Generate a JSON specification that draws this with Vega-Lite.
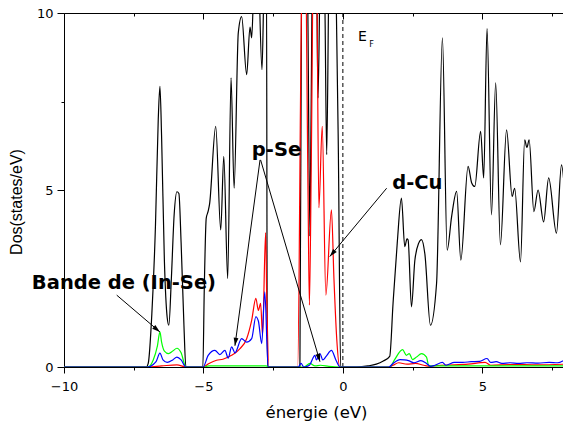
{
  "$schema": "https://vega.github.io/schema/vega-lite/v6.json",
  "width": 500,
  "height": 354,
  "autosize": {"type": "none"},
  "padding": {"left": 64, "top": 13, "right": 0, "bottom": 54},
  "background": "white",
  "config": {
    "view": {"stroke": null},
    "axis": {"labelFont": "DejaVu Sans", "labelFontSize": 13, "labelColor": "black", "domainColor": "black", "tickColor": "black", "grid": false, "titleColor": "black", "labelOverlap": false, "labelFlush": false, "labelBound": false}
  },
  "datasets": {
    "black": [
      {"e":-10,"v":0},{"e":-7.05,"v":0},{"e":-6.98,"v":0.1},{"e":-6.85,"v":1.5},{"e":-6.72,"v":4.0},{"e":-6.62,"v":7.0},{"e":-6.56,"v":7.93},{"e":-6.5,"v":6.5},{"e":-6.4,"v":3.0},{"e":-6.3,"v":1.4},{"e":-6.24,"v":1.18},{"e":-6.15,"v":2.5},{"e":-6.05,"v":4.3},{"e":-5.95,"v":4.95},{"e":-5.88,"v":4.9},{"e":-5.8,"v":3.5},{"e":-5.7,"v":1.2},{"e":-5.63,"v":0},
      {"e":-5.02,"v":0},{"e":-4.97,"v":2.2},{"e":-4.9,"v":4.2},{"e":-4.83,"v":4.4},{"e":-4.78,"v":4.6},{"e":-4.56,"v":6.8},{"e":-4.38,"v":3.87},{"e":-4.27,"v":5.95},{"e":-4.13,"v":2.5},{"e":-4.01,"v":8.17},{"e":-3.9,"v":5.05},{"e":-3.75,"v":9.44},{"e":-3.63,"v":9.9},{"e":-3.45,"v":8.26},{"e":-3.33,"v":9.6},{"e":-3.27,"v":9.3},{"e":-3.19,"v":10.8},{"e":-3.05,"v":11.5},{"e":-2.9,"v":8.4},{"e":-2.82,"v":11},{"e":-2.74,"v":11.5},{"e":-2.71,"v":0},
      {"e":-1.54,"v":0},{"e":-1.48,"v":11},{"e":-1.38,"v":13},{"e":-1.27,"v":11},{"e":-1.18,"v":3.7},{"e":-1.1,"v":11},{"e":-1.0,"v":13},{"e":-0.94,"v":11},{"e":-0.89,"v":7.6},{"e":-0.82,"v":11},{"e":-0.72,"v":13},{"e":-0.64,"v":10},{"e":-0.58,"v":6.0},{"e":-0.5,"v":11},{"e":-0.38,"v":13},{"e":-0.25,"v":11},{"e":-0.16,"v":6},{"e":-0.08,"v":0},
      {"e":0.5,"v":0},{"e":0.9,"v":0.03},{"e":1.2,"v":0.08},{"e":1.45,"v":0.17},{"e":1.68,"v":0.3},{"e":1.8,"v":1.8},{"e":1.95,"v":3.5},{"e":2.1,"v":4.77},{"e":2.22,"v":3.4},{"e":2.3,"v":3.62},{"e":2.34,"v":3.59},{"e":2.46,"v":1.7},{"e":2.58,"v":3.0},{"e":2.72,"v":3.5},{"e":2.82,"v":3.6},{"e":2.94,"v":3.2},{"e":3.14,"v":1.18},{"e":3.36,"v":2.36},{"e":3.57,"v":9.3},{"e":3.74,"v":3.3},{"e":3.9,"v":4.25},{"e":4.08,"v":4.96},{"e":4.23,"v":3.02},{"e":4.49,"v":5.67},{"e":4.62,"v":5.2},{"e":4.73,"v":5.1},{"e":4.94,"v":6.66},{"e":5.05,"v":5.34},{"e":5.17,"v":9.56},{"e":5.33,"v":4.3},{"e":5.48,"v":8.03},{"e":5.65,"v":3.45},{"e":5.87,"v":6.7},{"e":6.07,"v":4.82},{"e":6.16,"v":5.05},{"e":6.37,"v":2.97},{"e":6.52,"v":6.42},{"e":6.6,"v":6.2},{"e":6.68,"v":6.42},{"e":6.85,"v":4.39},{"e":7.0,"v":5.0},{"e":7.2,"v":4.1},{"e":7.38,"v":5.34},{"e":7.66,"v":3.78},{"e":7.84,"v":5.71},{"e":7.95,"v":5.0}
    ],
    "red": [
      {"e":-10,"v":0},{"e":-7.0,"v":0},{"e":-6.5,"v":0.03},{"e":-5.95,"v":0.06},{"e":-5.63,"v":0},{"e":-5.02,"v":0},{"e":-4.8,"v":0.1},{"e":-4.53,"v":0.19},{"e":-4.3,"v":0.22},{"e":-3.99,"v":0.33},{"e":-3.85,"v":0.4},{"e":-3.69,"v":0.52},{"e":-3.45,"v":0.8},{"e":-3.27,"v":1.32},{"e":-3.12,"v":1.94},{"e":-3.03,"v":1.6},{"e":-2.95,"v":1.8},{"e":-2.88,"v":0.9},{"e":-2.77,"v":3.8},{"e":-2.73,"v":2.0},{"e":-2.65,"v":0},
      {"e":-1.62,"v":0},{"e":-1.5,"v":9},{"e":-1.45,"v":12},{"e":-1.35,"v":12},{"e":-1.25,"v":5},{"e":-1.2,"v":1.75},{"e":-1.13,"v":6},{"e":-1.05,"v":12},{"e":-0.95,"v":12},{"e":-0.86,"v":4.5},{"e":-0.74,"v":6.8},{"e":-0.61,"v":2.03},{"e":-0.41,"v":4.44},{"e":-0.32,"v":2.5},{"e":-0.22,"v":0.8},{"e":-0.11,"v":0},
      {"e":1.65,"v":0},{"e":1.8,"v":0.05},{"e":2.0,"v":0.12},{"e":2.3,"v":0.08},{"e":2.6,"v":0.1},{"e":2.9,"v":0.05},{"e":3.1,"v":0.02},{"e":3.5,"v":0.05},{"e":4.0,"v":0.06},{"e":4.5,"v":0.08},{"e":5.1,"v":0.13},{"e":5.3,"v":0.05},{"e":6.0,"v":0.07},{"e":7.0,"v":0.06},{"e":7.95,"v":0.08}
    ],
    "green": [
      {"e":-10,"v":0},{"e":-7.0,"v":0},{"e":-6.8,"v":0.2},{"e":-6.65,"v":0.6},{"e":-6.56,"v":0.99},{"e":-6.5,"v":0.7},{"e":-6.4,"v":0.45},{"e":-6.25,"v":0.38},{"e":-6.1,"v":0.45},{"e":-5.95,"v":0.53},{"e":-5.8,"v":0.4},{"e":-5.63,"v":0},{"e":-5.0,"v":0},{"e":-4.8,"v":0.03},{"e":-2.75,"v":0.03},{"e":-2.66,"v":0},{"e":-1.4,"v":0},{"e":-1.18,"v":0.1},{"e":-1.0,"v":0.03},{"e":-0.8,"v":0.05},{"e":-0.5,"v":0.02},{"e":-0.1,"v":0},
      {"e":1.68,"v":0},{"e":1.85,"v":0.2},{"e":2.14,"v":0.49},{"e":2.28,"v":0.33},{"e":2.38,"v":0.38},{"e":2.5,"v":0.21},{"e":2.64,"v":0.28},{"e":2.82,"v":0.38},{"e":3.0,"v":0.28},{"e":3.08,"v":0.03},{"e":7.95,"v":0.03}
    ],
    "blue": [
      {"e":-10,"v":0},{"e":-7.0,"v":0},{"e":-6.7,"v":0.15},{"e":-6.56,"v":0.39},{"e":-6.45,"v":0.2},{"e":-6.3,"v":0.13},{"e":-6.1,"v":0.2},{"e":-5.95,"v":0.28},{"e":-5.8,"v":0.2},{"e":-5.63,"v":0},{"e":-5.01,"v":0},{"e":-4.83,"v":0.33},{"e":-4.59,"v":0.47},{"e":-4.41,"v":0.35},{"e":-4.23,"v":0.47},{"e":-4.11,"v":0.25},{"e":-3.99,"v":0.57},{"e":-3.87,"v":0.4},{"e":-3.63,"v":0.8},{"e":-3.45,"v":0.7},{"e":-3.27,"v":0.8},{"e":-3.12,"v":1.42},{"e":-3.03,"v":1.3},{"e":-2.91,"v":0.66},{"e":-2.8,"v":2.12},{"e":-2.68,"v":0},
      {"e":-1.6,"v":0},{"e":-1.5,"v":0.1},{"e":-1.4,"v":0},{"e":-1.2,"v":0.05},{"e":-1.0,"v":0.33},{"e":-0.95,"v":0.2},{"e":-0.82,"v":0.38},{"e":-0.72,"v":0.2},{"e":-0.6,"v":0.3},{"e":-0.41,"v":0.47},{"e":-0.25,"v":0.2},{"e":-0.1,"v":0},
      {"e":1.65,"v":0},{"e":1.8,"v":0.1},{"e":2.05,"v":0.21},{"e":2.2,"v":0.2},{"e":2.35,"v":0.18},{"e":2.55,"v":0.12},{"e":2.8,"v":0.18},{"e":3.0,"v":0.1},{"e":3.15,"v":0.02},{"e":3.3,"v":0.05},{"e":3.57,"v":0.13},{"e":3.7,"v":0.05},{"e":4.0,"v":0.13},{"e":4.3,"v":0.13},{"e":4.6,"v":0.15},{"e":4.9,"v":0.16},{"e":5.17,"v":0.24},{"e":5.3,"v":0.13},{"e":5.5,"v":0.15},{"e":5.7,"v":0.1},{"e":6.0,"v":0.12},{"e":6.3,"v":0.1},{"e":6.6,"v":0.12},{"e":7.0,"v":0.11},{"e":7.4,"v":0.13},{"e":7.7,"v":0.12},{"e":7.95,"v":0.2}
    ],
    "arrows": [
      {"e":-8.11,"v":2.03,"e2":-6.56,"v2":0.99,"angle":130},
      {"e":-2.97,"v":5.85,"e2":-3.87,"v2":0.6,"angle":188},
      {"e":-2.95,"v":5.85,"e2":-0.82,"v2":0.15,"angle":164},
      {"e":1.57,"v":5.05,"e2":-0.47,"v2":3.12,"angle":220}
    ],
    "labels": [
      {"e":-7.85,"v":2.19,"t":"Bande de (In-Se)"},
      {"e":-2.38,"v":5.95,"t":"p-Se"},
      {"e":2.67,"v":5.03,"t":"d-Cu"}
    ],
    "fermi": [{"e":0}],
    "ef": [{"e":0.54,"v":9.2,"t":"E"}],
    "ff": [{"e":0.95,"v":9.05,"t":"F"}]
  },
  "resolve": {"axis": {"x": "independent"}},
  "layer": [
    {
      "data": {"name": "fermi"},
      "mark": {"type": "rule", "color": "black", "strokeWidth": 1, "strokeDash": [4, 3]},
      "encoding": {
        "x": {"field": "e", "type": "quantitative", "scale": {"domain": [-10, 7.93], "nice": false, "zero": false},
          "axis": {"orient": "top", "values": [-10, -7.5, -5, -2.5, 0, 2.5, 5, 7.5], "labels": false, "title": null, "tickSize": {"condition": {"test": "datum.value % 5 === 0", "value": -6}, "value": -3}}}
      }
    },
    {
      "data": {"name": "black"},
      "mark": {"type": "line", "color": "black", "strokeWidth": 1.2, "clip": true, "interpolate": "monotone"},
      "encoding": {
        "x": {"field": "e", "type": "quantitative", "scale": {"domain": [-10, 7.93], "nice": false, "zero": false},
          "axis": {"orient": "bottom", "values": [-10, -7.5, -5, -2.5, 0, 2.5, 5, 7.5], "labelExpr": "datum.value % 5 === 0 ? datum.label : ''", "tickSize": {"condition": {"test": "datum.value % 5 === 0", "value": 6}, "value": 3}, "labelPadding": 7.5,
            "title": "énergie (eV)", "titleFont": "DejaVu Sans", "titleFontSize": 16.5, "titleFontWeight": "normal", "titleX": 252, "titleY": 50, "titleAlign": "center", "titleBaseline": "alphabetic"}},
        "y": {"field": "v", "type": "quantitative", "scale": {"domain": [0, 10], "nice": false},
          "axis": {"values": [0, 2.5, 5, 7.5, 10], "labelExpr": "datum.value % 5 === 0 ? datum.label : ''", "tickSize": {"condition": {"test": "datum.value % 5 === 0", "value": 7}, "value": 3}, "labelPadding": 4,
            "title": "Dos(states/eV)", "titleFont": "Liberation Sans", "titleFontSize": 16, "titleFontWeight": "normal", "titleX": -48, "titleY": 188.5, "titleAlign": "center", "titleBaseline": "middle", "titleAngle": -90}}
      }
    },
    {
      "data": {"name": "red"},
      "mark": {"type": "line", "color": "#ff0000", "strokeWidth": 1.2, "clip": true, "interpolate": "monotone"},
      "encoding": {
        "x": {"field": "e", "type": "quantitative", "axis": null},
        "y": {"field": "v", "type": "quantitative"}
      }
    },
    {
      "data": {"name": "green"},
      "mark": {"type": "line", "color": "#00ff00", "strokeWidth": 1.2, "clip": true, "interpolate": "monotone"},
      "encoding": {
        "x": {"field": "e", "type": "quantitative", "axis": null},
        "y": {"field": "v", "type": "quantitative"}
      }
    },
    {
      "data": {"name": "blue"},
      "mark": {"type": "line", "color": "#0000ff", "strokeWidth": 1.2, "clip": true, "interpolate": "monotone"},
      "encoding": {
        "x": {"field": "e", "type": "quantitative", "axis": null},
        "y": {"field": "v", "type": "quantitative"}
      }
    },
    {
      "data": {"name": "arrows"},
      "mark": {"type": "rule", "color": "black", "strokeWidth": 1},
      "encoding": {
        "x": {"field": "e", "type": "quantitative", "axis": null},
        "y": {"field": "v", "type": "quantitative"},
        "x2": {"field": "e2"},
        "y2": {"field": "v2"}
      }
    },
    {
      "data": {"name": "arrows"},
      "mark": {"type": "point", "shape": "M0,0L-0.6,2L0.6,2Z", "filled": true, "color": "black", "opacity": 1, "size": 64, "strokeWidth": 0},
      "encoding": {
        "x": {"field": "e2", "type": "quantitative", "axis": null},
        "y": {"field": "v2", "type": "quantitative"},
        "angle": {"field": "angle", "type": "quantitative", "scale": null}
      }
    },
    {
      "data": {"name": "labels"},
      "mark": {"type": "text", "font": "DejaVu Sans", "fontWeight": "bold", "fontSize": 19.5, "align": "center", "baseline": "alphabetic", "color": "black"},
      "encoding": {
        "x": {"field": "e", "type": "quantitative", "axis": null},
        "y": {"field": "v", "type": "quantitative"},
        "text": {"field": "t"}
      }
    },
    {
      "data": {"name": "ef"},
      "mark": {"type": "text", "font": "DejaVu Sans", "fontSize": 14, "align": "left", "baseline": "alphabetic", "color": "black"},
      "encoding": {
        "x": {"field": "e", "type": "quantitative", "axis": null},
        "y": {"field": "v", "type": "quantitative"},
        "text": {"field": "t"}
      }
    },
    {
      "data": {"name": "ff"},
      "mark": {"type": "text", "font": "DejaVu Sans", "fontSize": 8, "align": "left", "baseline": "alphabetic", "color": "black"},
      "encoding": {
        "x": {"field": "e", "type": "quantitative", "axis": null},
        "y": {"field": "v", "type": "quantitative"},
        "text": {"field": "t"}
      }
    }
  ]
}
